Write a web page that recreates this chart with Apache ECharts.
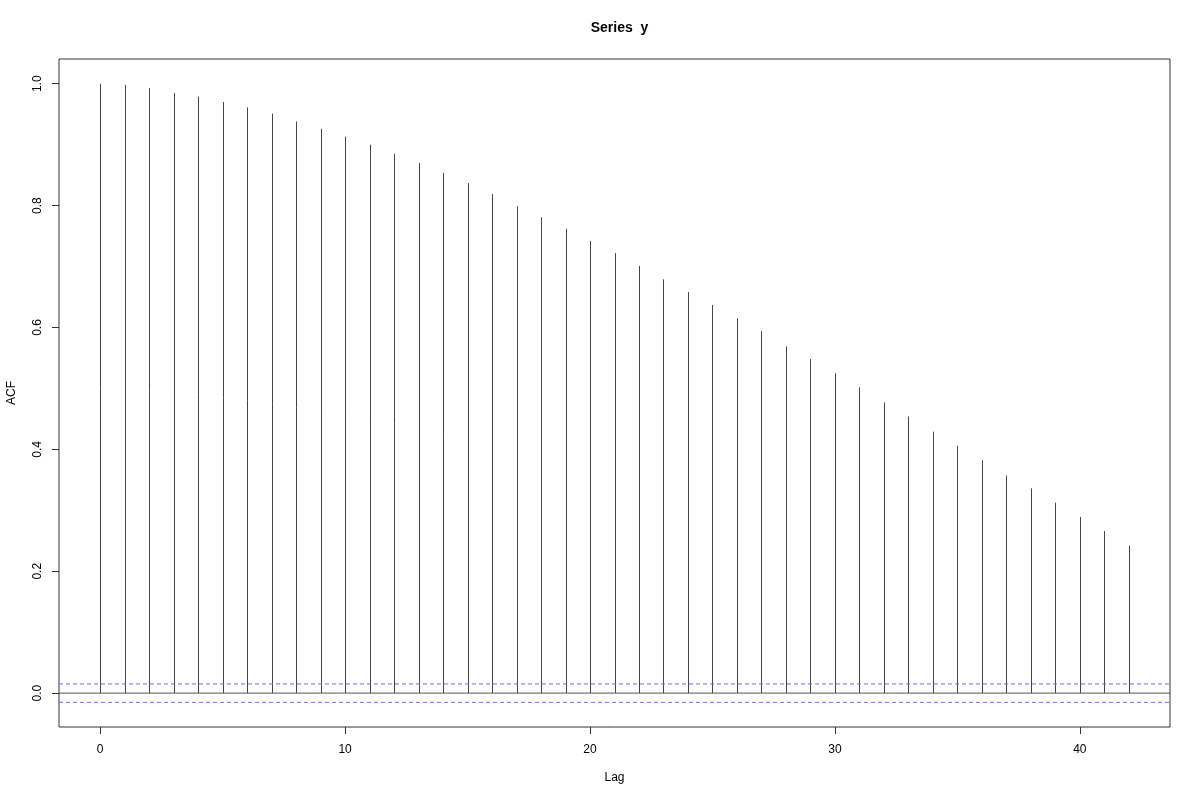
<!DOCTYPE html>
<html>
<head>
<meta charset="utf-8">
<script src="https://cdn.jsdelivr.net/npm/echarts@6/dist/echarts.min.js"></script>
<style>html,body{margin:0;padding:0;background:#fff}#c{width:1200px;height:800px}</style>
</head>
<body>
<div id="c"></div>
<script>
const lags = [0,1,2,3,4,5,6,7,8,9,10,11,12,13,14,15,16,17,18,19,20,21,22,23,24,25,26,27,28,29,30,31,32,33,34,35,36,37,38,39,40,41,42];
const acfValues = [1.000,0.998,0.993,0.985,0.979,0.970,0.961,0.951,0.938,0.926,0.913,0.900,0.885,0.870,0.854,0.837,0.819,0.799,0.781,0.762,0.742,0.722,0.701,0.679,0.658,0.637,0.615,0.594,0.569,0.548,0.525,0.502,0.477,0.454,0.429,0.406,0.382,0.357,0.336,0.3125,0.289,0.266,0.242];
const ciBound = 0.0151;
const xTicks = [0,10,20,30,40];
const yTicks = [0.0,0.2,0.4,0.6,0.8,1.0];
const xLimits = [-1.68, 43.68];
const yLimits = [-0.0556, 1.0406];

const chart = echarts.init(document.getElementById('c'));
const font = 'Liberation Sans, Arial, Helvetica, sans-serif';
function hline(y, color, type) {
  return {
    type: 'line', silent: true, showSymbol: false, symbol: 'none', z: 3,
    data: [[xLimits[0], y], [xLimits[1], y]],
    lineStyle: {color: color, type: type, width: 1},
    itemStyle: {color: color}
  };
}
chart.setOption({
  animation: false,
  backgroundColor: '#fff',
  title: {
    text: 'Series  y', left: 614.5, top: 16, textAlign: 'center',
    textStyle: {fontFamily: font, fontSize: 14, fontWeight: 'bold', color: '#000'}
  },
  grid: {left: 59, top: 59, right: 30, bottom: 73, show: true, borderColor: '#333', borderWidth: 1,
         backgroundColor: 'transparent', containLabel: false, outerBoundsMode: 'none'},
  xAxis: {
    type: 'value', min: xLimits[0], max: xLimits[1],
    name: 'Lag', nameLocation: 'middle', nameGap: 45,
    nameTextStyle: {fontFamily: font, fontSize: 12, color: '#000'},
    axisLine: {show: false, onZero: false},
    axisTick: {show: true, inside: false, length: 7, customValues: xTicks, lineStyle: {color: '#333'}},
    axisLabel: {customValues: xTicks, fontFamily: font, fontSize: 12, color: '#000', margin: 17, formatter: v => String(v)},
    splitLine: {show: false}
  },
  yAxis: {
    type: 'value', min: yLimits[0], max: yLimits[1],
    name: 'ACF', nameLocation: 'middle', nameGap: 41, nameRotate: 90,
    nameTextStyle: {fontFamily: font, fontSize: 12, color: '#000'},
    axisLine: {show: false, onZero: false},
    axisTick: {show: true, length: 7, customValues: yTicks, lineStyle: {color: '#333'}},
    axisLabel: {customValues: yTicks, rotate: 90, fontFamily: font, fontSize: 12, color: '#000', margin: 15, formatter: v => v.toFixed(1)},
    splitLine: {show: false}
  },
  series: [{
    type: 'custom',
    data: lags.map((l, i) => [l, acfValues[i]]),
    renderItem: function (params, api) {
      const p0 = api.coord([api.value(0), 0]);
      const p1 = api.coord([api.value(0), api.value(1)]);
      return {
        type: 'line',
        shape: {x1: Math.round(p0[0]) + 0.5, y1: p0[1], x2: Math.round(p1[0]) + 0.5, y2: p1[1]},
        style: {stroke: '#444', lineWidth: 1}
      };
    }
  },
  hline(0, '#555', 'solid'),
  hline(ciBound, '#6b6bf0', [4, 3]),
  hline(-ciBound, '#6b6bf0', [4, 3])
  ]
});
</script>
</body>
</html>
